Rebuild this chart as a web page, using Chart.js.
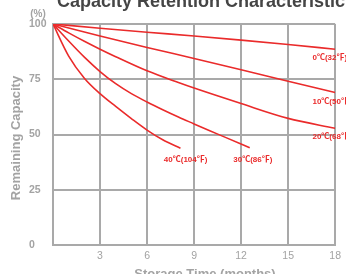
<!DOCTYPE html>
<html>
<head>
<meta charset="utf-8">
<script src="https://cdn.jsdelivr.net/npm/chart.js@4/dist/chart.umd.min.js"></script>
<style>
  body { margin: 0; background: #fff; }
  #wrap { width: 346px; height: 274px; position: relative; }
</style>
</head>
<body>
<div id="wrap"><canvas id="retention-chart"></canvas></div>
<script>
// Capacity retention vs storage time

const seriesNames = ['0℃(32℉)', '10℃(50℉)', '20℃(68℉)', '30℃(86℉)', '40℃(104℉)'];

const months0 = [0, 3, 6, 9, 12, 15, 18];
const cap0 = [100, 98.1, 96.3, 94.6, 92.7, 90.7, 88.6];

const months10 = [0, 1.5, 3, 6, 9, 12, 15, 18];
const cap10 = [100, 97.3, 94.6, 89.4, 84.4, 79.3, 74.1, 69];

const months20 = [0, 1, 2, 3, 4, 6, 8, 9, 12, 15, 18];
const cap20 = [100, 96, 92.2, 88.6, 85.2, 78.8, 73.5, 71, 64, 57.3, 52.8];

const months30 = [0, 1, 2, 3, 4, 5, 6, 7, 8, 9, 10, 11, 12.55];
const cap30 = [100, 92.3, 85, 78.5, 73, 68.5, 64.7, 61.2, 57.9, 54.8, 51.7, 48.7, 44];

const months40 = [0, 1, 2, 3, 4, 5, 6, 7, 8.13];
const cap40 = [100, 85.5, 75.5, 68.5, 62.7, 57.2, 52, 47.6, 43.8];

const xTicks = [0, 3, 6, 9, 12, 15, 18];
const yTicks = [0, 25, 50, 75, 100];

// where each curve label sits, in chart units (month, %)
const labelSpots = [
  [16.55, 84.6],
  [16.55, 64.8],
  [16.55, 49],
  [11.5, 38.5],
  [7.07, 38.5]
];

const red = '#ea2b2b';
const gridGray = '#a9a9a9';
const textGray = '#a3a3a3';

function toPoints(xs, ys) {
  return xs.map((x, i) => ({ x: x, y: ys[i] }));
}

const lineSets = [
  toPoints(months0, cap0),
  toPoints(months10, cap10),
  toPoints(months20, cap20),
  toPoints(months30, cap30),
  toPoints(months40, cap40)
];

const textPlugin = {
  id: 'textPlugin',
  afterDraw(chart) {
    const ctx = chart.ctx;
    const xs = chart.scales.x;
    const ys = chart.scales.y;
    ctx.save();

    // main title, mostly cut off at top
    ctx.fillStyle = '#454545';
    ctx.font = 'bold 18px "Liberation Sans", Arial, sans-serif';
    ctx.textAlign = 'left';
    ctx.textBaseline = 'alphabetic';
    ctx.fillText('Capacity Retention Characteristic', 57, 7);

    // unit
    ctx.fillStyle = textGray;
    ctx.font = 'bold 10px "Liberation Sans", Arial, sans-serif';
    ctx.textAlign = 'center';
    ctx.textBaseline = 'middle';
    ctx.fillText('(%)', 38, 14);

    // axis titles
    ctx.font = 'bold 13px "Liberation Sans", Arial, sans-serif';
    ctx.save();
    ctx.translate(16, 138);
    ctx.rotate(-Math.PI / 2);
    ctx.fillText('Remaining Capacity', 0, 0);
    ctx.restore();
    ctx.textBaseline = 'alphabetic';
    ctx.fillText('Storage Time (months)', 205, 278);

    // curve labels
    ctx.fillStyle = red;
    ctx.font = 'bold 8px "Liberation Sans", "Noto Sans CJK SC", sans-serif';
    ctx.textAlign = 'left';
    ctx.textBaseline = 'middle';
    labelSpots.forEach((p, i) => {
      ctx.fillText(seriesNames[i], xs.getPixelForValue(p[0]), ys.getPixelForValue(p[1]));
    });
    ctx.restore();
  }
};

const ctx = document.getElementById('retention-chart').getContext('2d');
const chart = new Chart(ctx, {
  type: 'line',
  data: {
    datasets: lineSets.map((pts, i) => ({
      label: seriesNames[i],
      data: pts,
      borderColor: red,
      borderWidth: 1.6,
      pointRadius: 0,
      fill: false,
      cubicInterpolationMode: 'monotone'
    }))
  },
  options: {
    responsive: true,
    maintainAspectRatio: false,
    animation: false,
    devicePixelRatio: 1,
    layout: { padding: { left: 29, top: 24, right: 8, bottom: 0 } },
    plugins: {
      legend: { display: false },
      tooltip: { enabled: false }
    },
    scales: {
      x: {
        type: 'linear',
        min: 0,
        max: 18,
        afterBuildTicks: (s) => { s.ticks = xTicks.map(v => ({ value: v })); },
        afterFit: (s) => { s.height = 29; },
        grid: { color: gridGray, lineWidth: 2, drawTicks: false },
        border: { color: gridGray, width: 2 },
        ticks: {
          color: textGray,
          padding: 5,
          font: { family: '"Liberation Sans", Arial, sans-serif', size: 10.5 },
          callback: (v) => (v === 0 ? '' : v)
        }
      },
      y: {
        min: 0,
        max: 100,
        afterBuildTicks: (s) => { s.ticks = yTicks.map(v => ({ value: v })); },
        afterFit: (s) => { s.width = 24; },
        grid: { color: gridGray, lineWidth: 2, drawTicks: false },
        border: { color: gridGray, width: 2 },
        ticks: {
          color: textGray,
          crossAlign: 'far',
          font: { family: '"Liberation Sans", Arial, sans-serif', size: 10.5, weight: 'bold' }
        }
      }
    }
  },
  plugins: [textPlugin]
});
</script>
</body>
</html>
